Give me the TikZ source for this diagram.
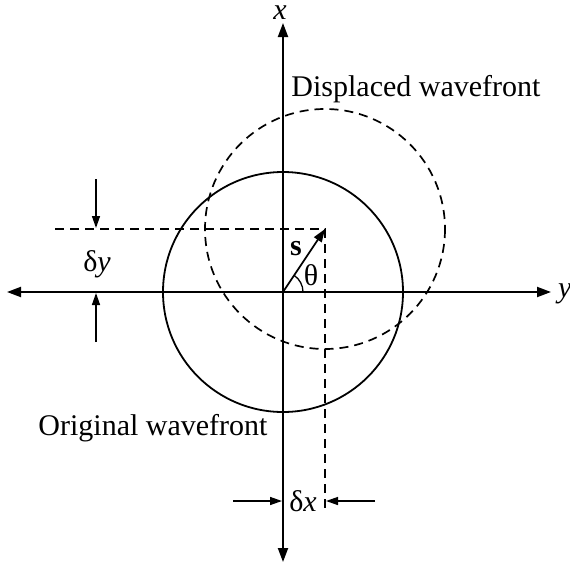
\documentclass[tikz,border=0pt]{standalone}
\usepackage{fontspec}
\setmainfont{Liberation Serif}
\usetikzlibrary{arrows.meta}
\begin{document}
\begin{tikzpicture}[x=1pt,y=-1pt,
  axis/.style={line width=2pt,-{Triangle[length=14pt,width=10pt]}},
  marker/.style={line width=1.4pt,-{Triangle[length=12pt,width=8pt]}},
  wave/.style={line width=1.8pt},
  guide/.style={line width=1.7pt,dash pattern=on 9pt off 6pt},
  lbl/.style={font=\fontsize{30}{36}\selectfont,inner sep=0pt}]
\useasboundingbox (0,0) rectangle (570,568);
% key points
\coordinate (O) at (283,292);
\coordinate (S) at (325,229);
\coordinate (xtop) at (283,23);
\coordinate (xbot) at (283,562);
\coordinate (yleft) at (7,292);
\coordinate (yright) at (551,292);
% axes
\draw[axis] (O) -- (xtop);
\draw[axis] (O) -- (xbot);
\draw[axis] (O) -- (yleft);
\draw[axis] (O) -- (yright);
% wavefronts
\draw[wave] (O) circle[radius=120];
\draw[guide] (S) circle[radius=120];
% dashed guides
\coordinate (hl) at (55,229);
\coordinate (vb) at (325,508);
\draw[guide] (hl) -- (S) -- (vb);
% vector s
\draw[line width=1.7pt,-{Triangle[length=13pt,width=9pt]}] (O) -- (S);
\draw[line width=1.3pt] (O) ++(20,0) arc[start angle=0,end angle=-56,radius=20];
% delta y markers
\coordinate (dya) at (96,179);
\coordinate (dyb) at (96,228);
\coordinate (dyc) at (96,342);
\coordinate (dyd) at (96,293);
\draw[marker] (dya) -- (dyb);
\draw[marker] (dyc) -- (dyd);
% delta x markers
\coordinate (dxa) at (233,501);
\coordinate (dxb) at (282,501);
\coordinate (dxc) at (375,501);
\coordinate (dxd) at (326,501);
\draw[marker] (dxa) -- (dxb);
\draw[marker] (dxc) -- (dxd);
% labels
\node[lbl,anchor=base] (xl) at (280,19) {\itshape x};
\node[lbl,anchor=west] (yl) at (558,294) {\itshape y};
\node[lbl,anchor=base] (disp) at (416,96) {Displaced wavefront};
\node[lbl,anchor=base] (orig) at (153,435) {Original wavefront};
\node[lbl,anchor=center] (dy) at (97,264) {δ\itshape y};
\node[lbl,anchor=center] (dx) at (303,501) {δ\itshape x};
\node[lbl,anchor=center] (s) at (296,249) {\bfseries s};
\node[lbl,anchor=center] (th) at (311,275) {θ};
\end{tikzpicture}
\end{document}
